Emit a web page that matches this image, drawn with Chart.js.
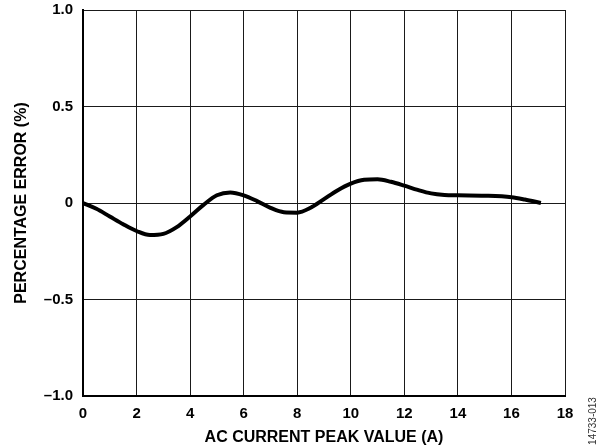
<!DOCTYPE html>
<html>
<head>
<meta charset="utf-8">
<script src="https://cdn.jsdelivr.net/npm/chart.js@4/dist/chart.umd.min.js"></script>
<style>
  html, body { margin: 0; padding: 0; background: #fff; }
  #wrap { width: 602px; height: 447px; position: relative; }
</style>
</head>
<body>
<div id="wrap"><canvas id="chart"></canvas></div>
<script>
/* Percentage error vs AC current peak value. */
var currentA = [0, 0.5, 1, 1.5, 2, 2.5, 3, 3.5, 4, 4.5, 5, 5.5, 6, 6.5, 7, 7.5, 8, 8.5, 9, 9.5,
  10, 10.5, 11, 11.5, 12, 12.5, 13, 13.5, 14, 15, 16, 16.5, 17.1];
var errorPct = [0, -0.03, -0.07, -0.11, -0.145, -0.166, -0.16, -0.125, -0.07, -0.01, 0.04, 0.055,
  0.04, 0.01, -0.025, -0.048, -0.05, -0.025, 0.02, 0.065, 0.1, 0.12, 0.123, 0.11, 0.09, 0.068,
  0.05, 0.042, 0.04, 0.038, 0.03, 0.018, 0];
var yTickValues = [-1, -0.5, 0, 0.5, 1];
var yTickLabels = ["\u20131.0", "\u20130.5", "0", "0.5", "1.0"];
var xTickStep = 2;
var figureId = "14733-013";

(function () {
  "use strict";
  var FONT = "'Liberation Sans', Arial, sans-serif";
  var GRID = "#1a1a1a";

  var sideLabel = {
    id: "sideLabel",
    afterDraw: function (chart) {
      var ctx = chart.ctx;
      ctx.save();
      ctx.translate(593, 421);
      ctx.rotate(-Math.PI / 2);
      ctx.font = "10px " + FONT;
      ctx.fillStyle = "#333";
      ctx.textAlign = "center";
      ctx.textBaseline = "middle";
      ctx.fillText(figureId, 0, 0);
      ctx.restore();
    }
  };

  var pts = currentA.map(function (x, i) { return { x: x, y: errorPct[i] }; });

  new Chart(document.getElementById("chart"), {
    type: "line",
    data: { datasets: [{ data: pts, borderColor: "#000", borderWidth: 4, pointRadius: 0,
      tension: 0.4, cubicInterpolationMode: "monotone", fill: false }] },
    options: {
      responsive: true, maintainAspectRatio: false, animation: false,
      layout: { padding: { top: 10, right: 37, left: 0, bottom: 0 } },
      plugins: { legend: { display: false }, tooltip: { enabled: false } },
      scales: {
        x: {
          type: "linear", min: 0, max: 18,
          afterFit: function (s) { s.height = 51; s.paddingLeft = 0; s.paddingRight = 0; },
          grid: { color: GRID, lineWidth: 1, drawTicks: false },
          border: { color: "#000", width: 2 },
          ticks: { stepSize: xTickStep, padding: 9, color: "#000", maxRotation: 0,
            font: { family: FONT, size: 15, weight: "bold" } },
          title: { display: true, text: "AC CURRENT PEAK VALUE (A)", color: "#000",
            padding: { top: 0, bottom: 0 }, font: { family: FONT, size: 16, weight: "bold" } }
        },
        y: {
          min: -1, max: 1,
          afterFit: function (s) { s.width = 83; s.paddingTop = 0; s.paddingBottom = 0; },
          afterBuildTicks: function (s) { s.ticks = yTickValues.map(function (v) { return { value: v }; }); },
          grid: { color: GRID, lineWidth: 1, drawTicks: false },
          border: { color: "#000", width: 2 },
          ticks: { padding: 10, color: "#000",
            font: { family: FONT, size: 15, weight: "bold" },
            callback: function (v) { var i = yTickValues.indexOf(v); return i >= 0 ? yTickLabels[i] : ""; } },
          title: { display: true, text: "PERCENTAGE ERROR (%)", color: "#000",
            padding: { top: 12, bottom: 0 }, font: { family: FONT, size: 16, weight: "bold" } }
        }
      }
    },
    plugins: [sideLabel]
  });
})();
</script>
</body>
</html>
